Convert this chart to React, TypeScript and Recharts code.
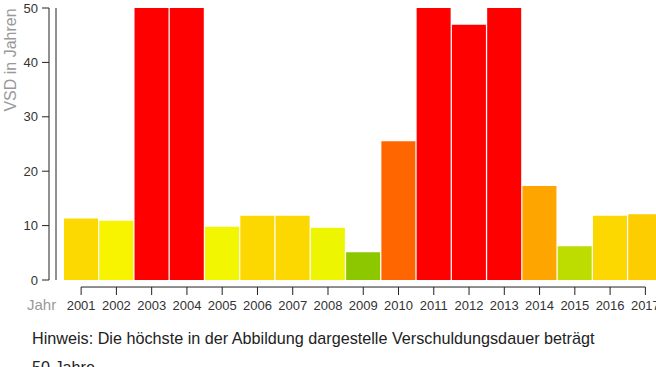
import { BarChart, Bar, XAxis, YAxis, Cell, ReferenceLine } from "recharts";

const years = [
  "2001", "2002", "2003", "2004", "2005", "2006", "2007", "2008", "2009",
  "2010", "2011", "2012", "2013", "2014", "2015", "2016", "2017",
];

// VSD = Verschuldungsdauer in Jahren, capped at 50
const vsd = [11.3, 10.9, 50, 50, 9.8, 11.8, 11.8, 9.6, 5.1, 25.5, 50, 46.9, 50, 17.3, 6.2, 11.8, 12.1];

const barColors = [
  "#fcd900", "#f8f400", "#ff0000", "#ff0000", "#f2f600", "#fdd800", "#fdd800", "#eef500", "#8cc700",
  "#ff6600", "#ff0000", "#ff0000", "#ff0000", "#ffa500", "#bddc00", "#fdd800", "#fdcd00",
];

const yTicks = [0, 10, 20, 30, 40, 50];

const data = years.map((year, i) => ({ year, vsd: vsd[i] }));

const FONT = '"Liberation Sans", Arial, sans-serif';
const AXIS = "#222";
const GREY = "#999";

// x ticks sit a few pixels below the plot, like the original
function YearTick(props: any) {
  const { x, y, payload } = props;
  return (
    <g>
      <line x1={x} x2={x} y1={y - 1} y2={y + 7} stroke={AXIS} />
      <text x={x} y={y + 13} dy="0.71em" textAnchor="middle" fontSize={13} fill="#333" fontFamily={FONT}>
        {payload.value}
      </text>
    </g>
  );
}

export default function App() {
  return (
    <div
      style={{
        position: "absolute",
        left: 0,
        top: 0,
        width: 656,
        height: 367,
        overflow: "hidden",
        background: "#fff",
        fontFamily: FONT,
      }}
    >
      <BarChart
        width={700}
        height={312}
        data={data}
        margin={{ top: 8, right: 37, left: 42, bottom: 0 }}
        barCategoryGap={0.5}
        style={{ fontFamily: FONT }}
      >
        <XAxis
          dataKey="year"
          interval={0}
          padding={{ left: 7.5, right: 0 }}
          axisLine={false}
          tickLine={false}
          tickSize={8}
          tickMargin={0}
          height={32}
          tick={<YearTick />}
        />
        <YAxis
          yAxisId="v"
          domain={[0, 50]}
          ticks={yTicks}
          width={7}
          axisLine={{ stroke: AXIS }}
          tickLine={{ stroke: AXIS }}
          tickSize={7}
          tickMargin={4}
          tick={{ fontSize: 13, fill: "#333" }}
        />
        <YAxis
          yAxisId="edge"
          domain={[0, 50]}
          width={7}
          tick={false}
          tickLine={false}
          axisLine={{ stroke: AXIS }}
        />
        <ReferenceLine
          yAxisId="v"
          segment={[
            { x: years[0], y: -1.29 },
            { x: years[years.length - 1], y: -1.29 },
          ]}
          ifOverflow="visible"
          stroke={AXIS}
        />
        <Bar dataKey="vsd" yAxisId="v" isAnimationActive={false}>
          {data.map((d, i) => (
            <Cell key={d.year} fill={barColors[i]} />
          ))}
        </Bar>
      </BarChart>

      <div
        style={{
          position: "absolute",
          left: -59,
          top: 51.5,
          width: 140,
          textAlign: "center",
          fontSize: 16,
          lineHeight: "16px",
          color: GREY,
          transform: "rotate(-90deg)",
          whiteSpace: "nowrap",
        }}
      >
        VSD in Jahren
      </div>
      <div
        style={{
          position: "absolute",
          left: 27,
          top: 297,
          fontSize: 15,
          lineHeight: "15px",
          color: GREY,
        }}
      >
        Jahr
      </div>
      <div
        style={{
          position: "absolute",
          left: 32,
          top: 324,
          fontSize: 16.2,
          lineHeight: "29px",
          color: "#222",
          whiteSpace: "nowrap",
        }}
      >
        Hinweis: Die höchste in der Abbildung dargestelle Verschuldungsdauer beträgt
        <br />
        50 Jahre
      </div>
    </div>
  );
}
